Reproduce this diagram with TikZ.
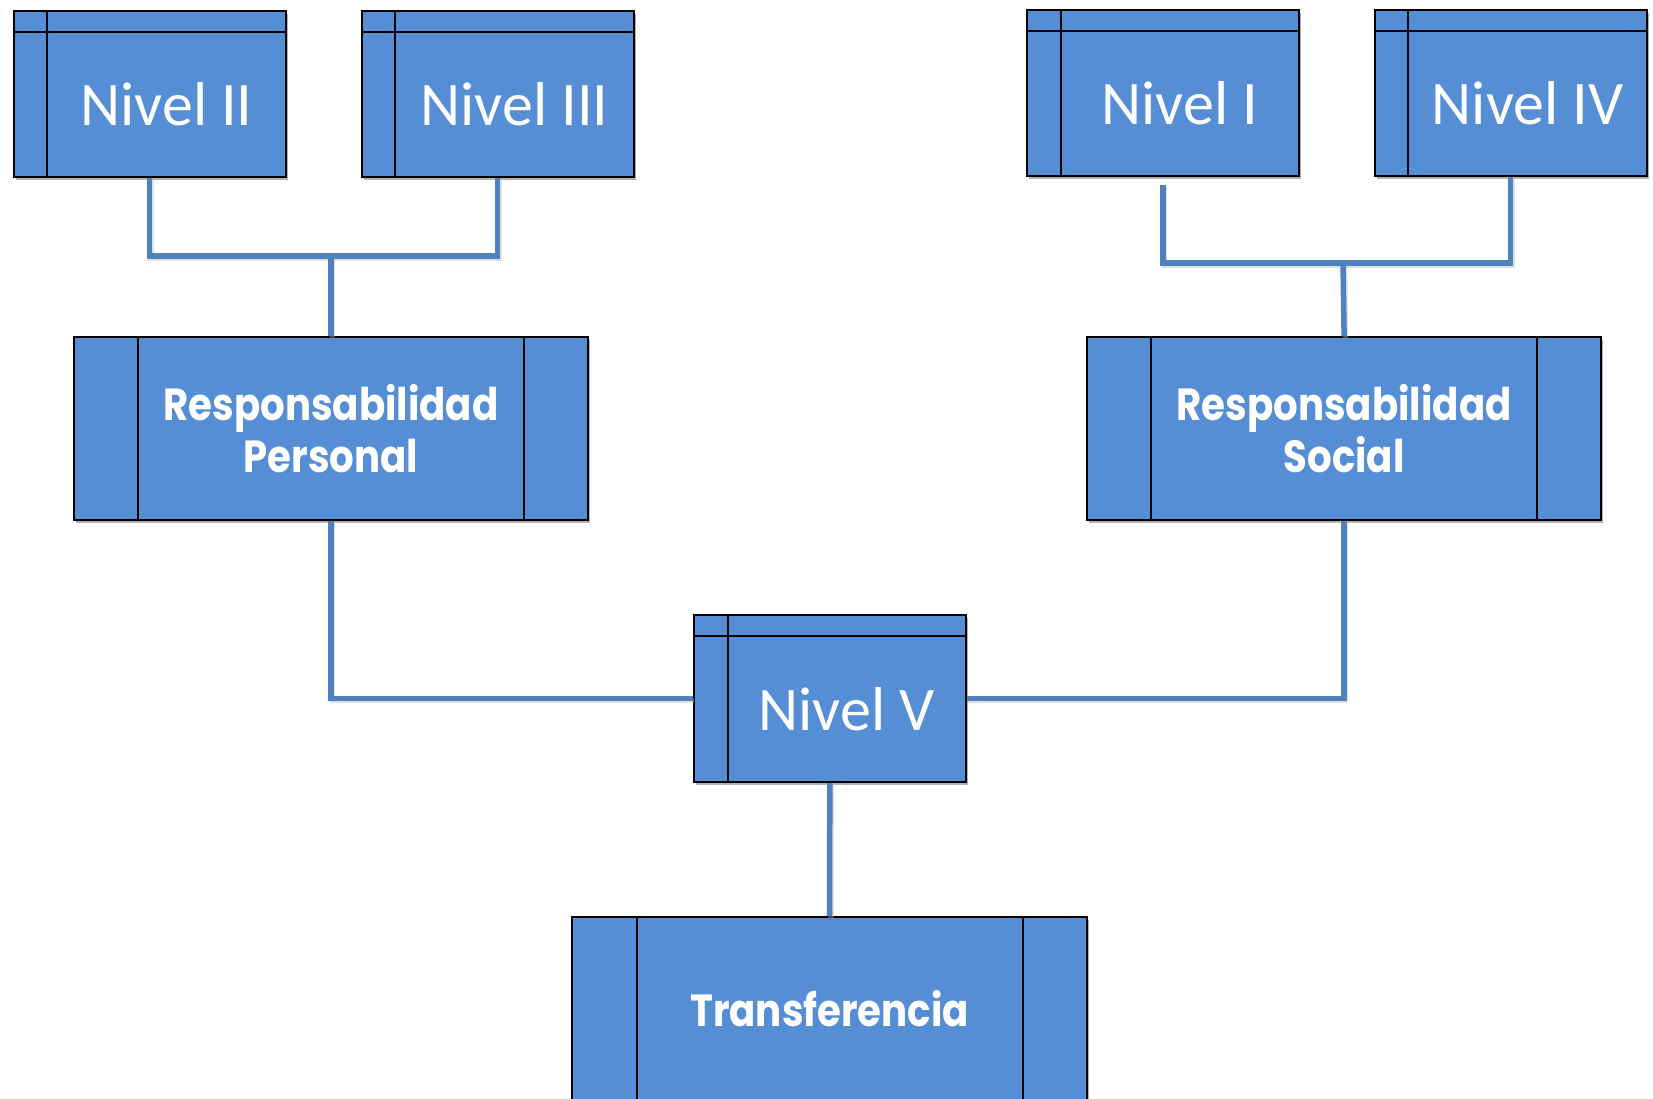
\documentclass[tikz,border=0pt]{standalone}
\usepackage{fontspec}
\setmainfont{Carlito}
\newfontfamily\gothic[FakeStretch=0.86]{Poppins}
\usetikzlibrary{shadows}
\definecolor{boxblue}{RGB}{85,142,213}
\definecolor{lineblue}{RGB}{79,129,189}
\tikzset{
  boxshadow/.style={drop shadow={shadow xshift=2pt, shadow yshift=-3pt, opacity=0.3, fill=black}},
  lvlbox/.style={draw=black, line width=2pt, fill=boxblue, minimum width=272pt, minimum height=166.5pt, inner sep=0pt, boxshadow,
    path picture={
      \draw[black, line width=2pt] ([xshift=33.7pt]path picture bounding box.north west) -- ([xshift=33.7pt]path picture bounding box.south west);
      \draw[black, line width=2pt] ([yshift=-21pt]path picture bounding box.north west) -- ([yshift=-21pt]path picture bounding box.north east);
    }},
  respbox/.style={draw=black, line width=2pt, fill=boxblue, minimum width=514.4pt, minimum height=182.4pt, inner sep=0pt, boxshadow,
    text=white, align=center, font=\gothic\bfseries\fontsize{45}{52}\selectfont,
    path picture={
      \draw[black, line width=2pt] ([xshift=64.3pt]path picture bounding box.north west) -- ([xshift=64.3pt]path picture bounding box.south west);
      \draw[black, line width=2pt] ([xshift=-64.3pt]path picture bounding box.north east) -- ([xshift=-64.3pt]path picture bounding box.south east);
    }},
  lvltext/.style={text=white, font=\fontsize{62}{70}\selectfont, inner sep=0pt, xshift=16.85pt, yshift=-10.5pt},
  conn/.style={draw=lineblue, line width=5.5pt,
    preaction={draw=black!30, opacity=0.4, line width=5.5pt, transform canvas={shift={(1.5pt,-2pt)}}}},
}
\begin{document}
\begin{tikzpicture}[x=1pt, y=-1pt]
\useasboundingbox (0,0) rectangle (1653,1099);
\fill[white] (0,0) rectangle (1653,1099);
\clip (0,0) rectangle (1653,1099);

% junction points
\coordinate (jl) at (331,256);
\coordinate (jr) at (1343,263);

\node[lvlbox, label={[lvltext]center:Nivel II}] (n2) at (149.7,93.8) {};
\node[lvlbox, label={[lvltext]center:Nivel III}] (n3) at (497.6,93.8) {};
\node[lvlbox, label={[lvltext]center:Nivel I}] (n1) at (1162.8,92.8) {};
\node[lvlbox, label={[lvltext]center:Nivel IV}] (n4) at (1510.7,92.8) {};

\node[respbox] (rp) at (331,428.5) {Responsabilidad\\Personal};
\node[respbox] (rs) at (1344.1,428.5) {Responsabilidad\\Social};

\node[lvlbox, label={[lvltext]center:Nivel V}] (n5) at (829.8,698.5) {};
\node[respbox] (tr) at (829.6,1008.4) {Transferencia};

\draw[conn] (n2.south) |- (jl) -| (n3.south);
\draw[conn] (jl) -- (rp.north);
\draw[conn] ([yshift=-8pt]n1.south) |- (jr) -| (n4.south);
\draw[conn] (jr) -- (rs.north);
\draw[conn] (rp.south) |- (n5.west);
\draw[conn] (n5.east) -| (rs.south);
\draw[conn] (n5.south) -- (tr.north);
\end{tikzpicture}
\end{document}
